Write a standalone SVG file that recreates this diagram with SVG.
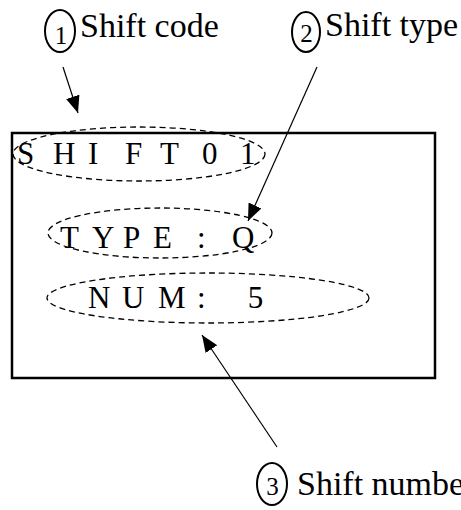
<svg xmlns="http://www.w3.org/2000/svg" width="461" height="510" viewBox="0 0 461 510">
<style>
.t{font-family:"Liberation Serif","Times New Roman",serif;fill:#000}
.lbl{font-size:34px}
.num{font-size:25px}
.scr{font-size:31px}
.oval{fill:none;stroke:#000;stroke-width:2}
.dash{fill:none;stroke:#000;stroke-width:1.3;stroke-dasharray:6 4}
.arr{stroke:#000;stroke-width:1.2;fill:none;marker-end:url(#ah)}
</style>
<defs>
<marker id="ah" markerUnits="userSpaceOnUse" markerWidth="18" markerHeight="16" refX="17" refY="7" orient="auto">
<path d="M0,0 L17,7 L0,14 z" fill="#000"/>
</marker>
</defs>
<rect width="461" height="510" fill="#fff"/>
<g id="screen">
<rect x="12" y="133" width="423" height="245" fill="none" stroke="#000" stroke-width="2.5"/>
</g>
<g id="field-code">
<ellipse class="dash" cx="139" cy="154" rx="126" ry="27"/>
<text class="t scr" y="164" xml:space="preserve" x="17 35 53 76 88 106 125 143 160 184 202 222 240">S H I F T 0 1</text>
</g>
<g id="field-type">
<ellipse class="dash" cx="160" cy="233" rx="112" ry="25"/>
<text class="t scr" y="248" xml:space="preserve" x="60 80 92 112 123 140 153 175 197 215 232">T Y P E : Q</text>
</g>
<g id="field-num">
<ellipse class="dash" cx="208" cy="298" rx="161" ry="25"/>
<text class="t scr" y="308" xml:space="preserve" x="88 113 122 145 158 188 197 220 240">N U M :  5</text>
</g>
<g id="label-1">
<ellipse class="oval" cx="60" cy="31" rx="15" ry="21"/>
<text class="t num" x="61" y="44" text-anchor="middle">1</text>
<text class="t lbl" x="80" y="37">Shift code</text>
</g>
<g id="label-2">
<ellipse class="oval" cx="306" cy="32" rx="14" ry="20"/>
<text class="t num" x="306.5" y="42" text-anchor="middle">2</text>
<text class="t lbl" x="325" y="36">Shift type</text>
</g>
<g id="label-3">
<ellipse class="oval" cx="272" cy="484" rx="15" ry="21"/>
<text class="t num" x="272.5" y="495" text-anchor="middle">3</text>
<text class="t lbl" x="297" y="495">Shift number</text>
</g>
<g id="connectors">
<line class="arr" x1="63" y1="67" x2="78" y2="113"/>
<line class="arr" x1="317" y1="67" x2="248" y2="221"/>
<line class="arr" x1="277" y1="447" x2="202" y2="335"/>
</g>
</svg>
